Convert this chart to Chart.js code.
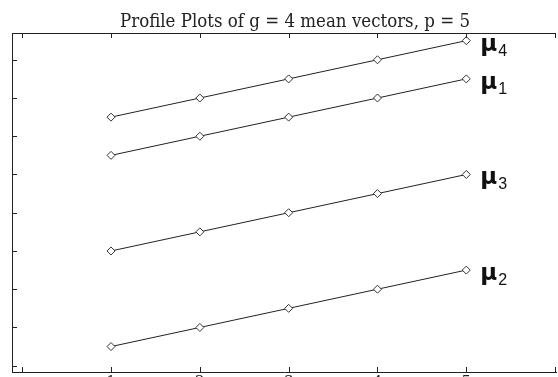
<!DOCTYPE html>
<html>
<head>
<meta charset="utf-8">
<script src="https://cdn.jsdelivr.net/npm/chart.js@4.4.1/dist/chart.umd.min.js"></script>
<style>
  html, body { margin: 0; padding: 0; background: #fff; overflow: hidden; }
  #wrap { width: 558px; height: 377px; overflow: hidden; }
</style>
</head>
<body>
<div id="wrap"><canvas id="profileChart" width="558" height="400"></canvas></div>
<script>
// variables 1..p and the four group mean vectors
const variables = [1, 2, 3, 4, 5];
const mu1 = [5.5, 6.0, 6.5, 7.0, 7.5];
const mu2 = [0.5, 1.0, 1.5, 2.0, 2.5];
const mu3 = [3.0, 3.5, 4.0, 4.5, 5.0];
const mu4 = [6.5, 7.0, 7.5, 8.0, 8.5];
const seriesSubs = ['1', '2', '3', '4'];

const xTicks = [0, 1, 2, 3, 4, 5, 6];
const xTickLabels = ['', '1', '2', '3', '4', '5', ''];
const yTicks = [0, 1, 2, 3, 4, 5, 6, 7, 8];
const titleText = 'Profile Plots of g = 4 mean vectors, p = 5';

const toPoints = vals => vals.map((v, i) => ({ x: variables[i], y: v }));

const ink = '#222';

const frameAndLabels = {
    id: 'frameAndLabels',
    afterDatasetsDraw(chart) {
        const ctx = chart.ctx;
        // mu labels next to the last point of each profile
        chart.data.datasets.forEach((ds, i) => {
            const pts = chart.getDatasetMeta(i).data;
            const last = pts[pts.length - 1];
            ctx.save();
            ctx.fillStyle = '#111';
            ctx.textBaseline = 'alphabetic';
            ctx.font = 'bold 23px "DejaVu Sans", sans-serif';
            ctx.fillText('\u03bc', last.x + 14, last.y + 10);
            ctx.font = '16px "Liberation Sans", Arial, sans-serif';
            ctx.fillText(seriesSubs[i], last.x + 32, last.y + 15);
            ctx.restore();
        });
    },
    afterDraw(chart) {
        const { ctx, chartArea: a, scales: { x, y } } = chart;
        ctx.save();
        ctx.strokeStyle = ink;
        ctx.lineWidth = 1;
        ctx.beginPath();
        ctx.moveTo(a.left, a.top + 0.5);
        ctx.lineTo(a.right, a.top + 0.5);
        xTicks.forEach(v => {
            const px = Math.round(x.getPixelForValue(v)) + 0.5;
            ctx.moveTo(px, a.top); ctx.lineTo(px, a.top + 5);
            ctx.moveTo(px, a.bottom); ctx.lineTo(px, a.bottom - 5);
        });
        yTicks.forEach(v => {
            const py = Math.round(y.getPixelForValue(v)) + 0.5;
            ctx.moveTo(a.left, py); ctx.lineTo(a.left + 5, py);
        });
        ctx.stroke();

        // title
        ctx.fillStyle = ink;
        ctx.font = '18px "DejaVu Serif", serif';
        ctx.textAlign = 'center';
        ctx.textBaseline = 'alphabetic';
        ctx.fillText(titleText, 295, 27, 350);
        ctx.restore();
    }
};

const lineStyle = {
    borderColor: ink,
    borderWidth: 1,
    pointStyle: 'rectRot',
    pointRadius: 4,
    pointBorderWidth: 1,
    pointBorderColor: '#333',
    pointBackgroundColor: '#fff',
    fill: false,
    tension: 0
};

new Chart(document.getElementById('profileChart'), {
    type: 'line',
    data: {
        datasets: [
            { label: 'mu1', data: toPoints(mu1), ...lineStyle },
            { label: 'mu2', data: toPoints(mu2), ...lineStyle },
            { label: 'mu3', data: toPoints(mu3), ...lineStyle },
            { label: 'mu4', data: toPoints(mu4), ...lineStyle }
        ]
    },
    options: {
        responsive: false,
        animation: false,
        layout: { autoPadding: false, padding: { top: 33, left: 12, right: 2, bottom: 0 } },
        plugins: { legend: { display: false }, tooltip: { enabled: false }, title: { display: false } },
        scales: {
            x: {
                type: 'linear',
                min: -0.115,
                max: 6.01,
                afterBuildTicks: s => { s.ticks = xTicks.map(v => ({ value: v })); },
                afterFit: s => { s.height = 28; },
                grid: { display: false, drawTicks: false },
                border: { display: true, color: ink, width: 1 },
                ticks: {
                    padding: 1,
                    color: ink,
                    font: { family: '"DejaVu Serif", serif', size: 15 },
                    callback: v => xTickLabels[xTicks.indexOf(v)] ?? ''
                }
            },
            y: {
                type: 'linear',
                min: -0.165,
                max: 8.70,
                afterFit: s => { s.width = 0; },
                grid: { display: false, drawTicks: false },
                border: { display: true, color: ink, width: 1 },
                ticks: { display: false }
            }
        }
    },
    plugins: [frameAndLabels]
});
</script>
</body>
</html>
